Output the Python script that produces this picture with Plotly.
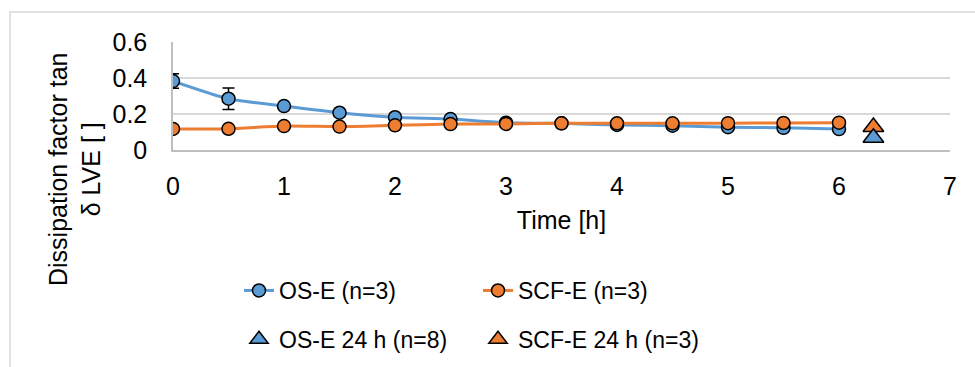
import plotly.graph_objects as go

# ---- data ----
time_h = [0, 0.5, 1, 1.5, 2, 2.5, 3, 3.5, 4, 4.5, 5, 5.5, 6]
os_e = [0.383, 0.285, 0.244, 0.207, 0.182, 0.172, 0.152, 0.148, 0.139, 0.135, 0.127, 0.123, 0.116]
os_e_err = [0.04, 0.06, 0.01, 0.008, 0.008, 0.006, 0.005, 0.005, 0.005, 0.005, 0.005, 0.005, 0.005]
scf_e = [0.117, 0.118, 0.133, 0.130, 0.137, 0.144, 0.145, 0.148, 0.148, 0.148, 0.149, 0.150, 0.152]
scf_e_err = [0.005] * 13
t24 = [6.31]
os_e_24 = [0.068]
scf_e_24 = [0.128]

y_ticks = [0, 0.2, 0.4, 0.6]
y_ticklabels = ["0", "0.2", "0.4", "0.6"]
x_ticks = [0, 1, 2, 3, 4, 5, 6, 7]

BLUE = "#5B9BD5"
ORANGE = "#ED7D31"
FONT = "Liberation Sans, Arial, sans-serif"

fig = go.Figure()

fig.add_trace(go.Scatter(
    x=time_h, y=os_e, mode="lines+markers", name="OS-E (n=3)",
    line=dict(color=BLUE, width=3, shape="spline", smoothing=0.6),
    marker=dict(color=BLUE, size=13, line=dict(color="black", width=1.5)),
    error_y=dict(type="data", array=os_e_err, color="black", thickness=1.5, width=6),
    legend="legend", legendgroup="a"))
fig.add_trace(go.Scatter(
    x=time_h, y=scf_e, mode="lines+markers", name="SCF-E (n=3)",
    line=dict(color=ORANGE, width=3, shape="spline", smoothing=0.6),
    marker=dict(color=ORANGE, size=13, line=dict(color="black", width=1.5)),
    error_y=dict(type="data", array=scf_e_err, color="black", thickness=1.5, width=6),
    legend="legend2", legendgroup="c"))
fig.add_trace(go.Scatter(
    x=t24, y=scf_e_24, mode="markers", name="SCF-E 24 h (n=3)",
    marker=dict(color=ORANGE, size=18, symbol="triangle-up", line=dict(color="black", width=1.5)),
    legend="legend2", legendgroup="d"))
fig.add_trace(go.Scatter(
    x=t24, y=os_e_24, mode="markers", name="OS-E 24 h (n=8)",
    marker=dict(color=BLUE, size=18, symbol="triangle-up", line=dict(color="black", width=1.5)),
    legend="legend", legendgroup="b"))

L, R, T, B = 173, 25, 42, 217
W, H = 975, 367
pw, ph = W - L - R, H - T - B

def px(x):
    return (x - L) / pw

def py(y):
    return (H - B - y) / ph

fig.update_layout(
    width=W, height=H, autosize=False,
    margin=dict(l=L, r=R, t=T, b=B, pad=0, autoexpand=False),
    paper_bgcolor="white", plot_bgcolor="white",
    font=dict(family=FONT, size=25, color="black"),
    showlegend=True,
    legend=dict(x=px(239), y=py(269), xanchor="left", yanchor="top",
                font=dict(size=23), tracegroupgap=16, traceorder="grouped",
                bgcolor="rgba(0,0,0,0)"),
    legend2=dict(x=px(478), y=py(269), xanchor="left", yanchor="top",
                 font=dict(size=23), tracegroupgap=16, traceorder="grouped",
                 bgcolor="rgba(0,0,0,0)"),
    xaxis=dict(range=[0, 7], tickvals=x_ticks, showgrid=False, zeroline=False,
               showline=True, linecolor="#bfbfbf", linewidth=1.5, ticks="",
               ticklabelstandoff=13, automargin=False,
               title=dict(text="Time [h]", font=dict(size=25), standoff=13)),
    yaxis=dict(range=[0, 0.6], tickvals=y_ticks, ticktext=y_ticklabels,
               showgrid=True, gridcolor="#d9d9d9", gridwidth=1.5, zeroline=False,
               showline=True, linecolor="#bfbfbf", linewidth=1.5, ticks="",
               ticklabelstandoff=19, automargin=False),
    shapes=[dict(type="rect", xref="paper", yref="paper",
                 x0=px(10), x1=px(1000), y0=py(460), y1=py(12),
                 line=dict(color="#d9d9d9", width=1.5), fillcolor="rgba(0,0,0,0)",
                 layer="below")],
    annotations=[dict(text="Dissipation factor tan<br>δ LVE [ ]", textangle=-90,
                      xref="paper", yref="paper", x=px(74), y=py(170),
                      xanchor="center", yanchor="middle", showarrow=False,
                      font=dict(size=25))],
)

fig.write_html("out.html")
